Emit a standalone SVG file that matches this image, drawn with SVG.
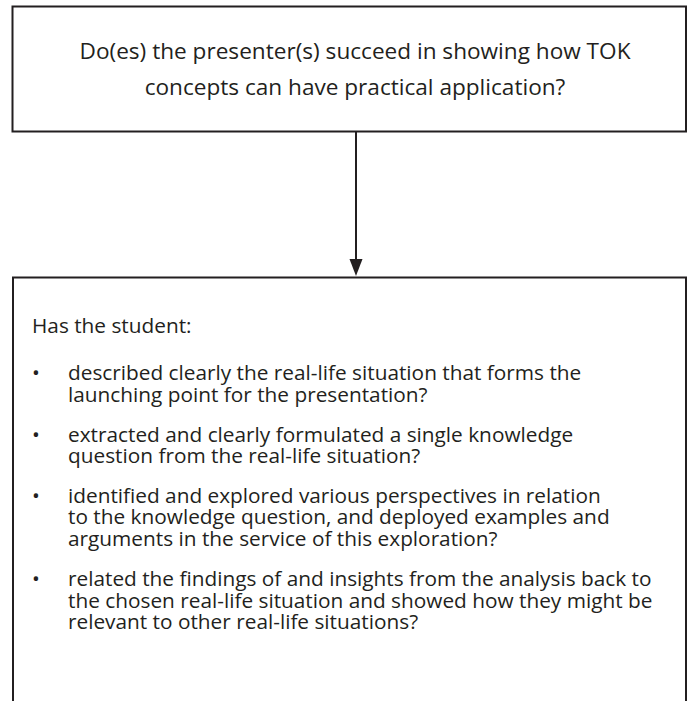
<svg xmlns="http://www.w3.org/2000/svg" width="687" height="701" viewBox="0 0 687 701">
<defs>
<style>
.box{fill:#fff;stroke:#231f20;stroke-width:2}
.t{font-family:"Open Sans","Liberation Sans",sans-serif;font-size:20.8px;fill:#231f20}
.h{font-size:22.6px}
.c{text-anchor:middle}
.line{stroke:#231f20;stroke-width:2;fill:none}
</style>
</defs>
<rect width="687" height="701" fill="#fff"/>
<g id="connectors">
<line class="line" x1="356" y1="132" x2="356" y2="259"/>
<path d="M349.5,259 L362.5,259 L356,276 Z" fill="#231f20"/>
</g>
<g id="node-question">
<rect class="box" x="12.5" y="6.5" width="673.5" height="125"/>
<text class="t h c" x="355" y="59">Do(es) the presenter(s) succeed in showing how TOK</text>
<text class="t h c" x="355" y="95">concepts can have practical application?</text>
</g>
<g id="node-criteria">
<path class="line" d="M13,710 L13,277.5 L686,277.5 L686,710"/>
<text class="t" x="32" y="333">Has the student:</text>
<g class="t">
<text x="32" y="380">•</text>
<text x="68" y="380">described clearly the real-life situation that forms the</text>
<text x="68" y="402">launching point for the presentation?</text>
<text x="32" y="442">•</text>
<text x="68" y="442">extracted and clearly formulated a single knowledge</text>
<text x="68" y="463">question from the real-life situation?</text>
<text x="32" y="503">•</text>
<text x="68" y="503">identified and explored various perspectives in relation</text>
<text x="68" y="524">to the knowledge question, and deployed examples and</text>
<text x="68" y="546">arguments in the service of this exploration?</text>
<text x="32" y="586">•</text>
<text x="68" y="586">related the findings of and insights from the analysis back to</text>
<text x="68" y="608">the chosen real-life situation and showed how they might be</text>
<text x="68" y="629">relevant to other real-life situations?</text>
</g>
</g>
</svg>
